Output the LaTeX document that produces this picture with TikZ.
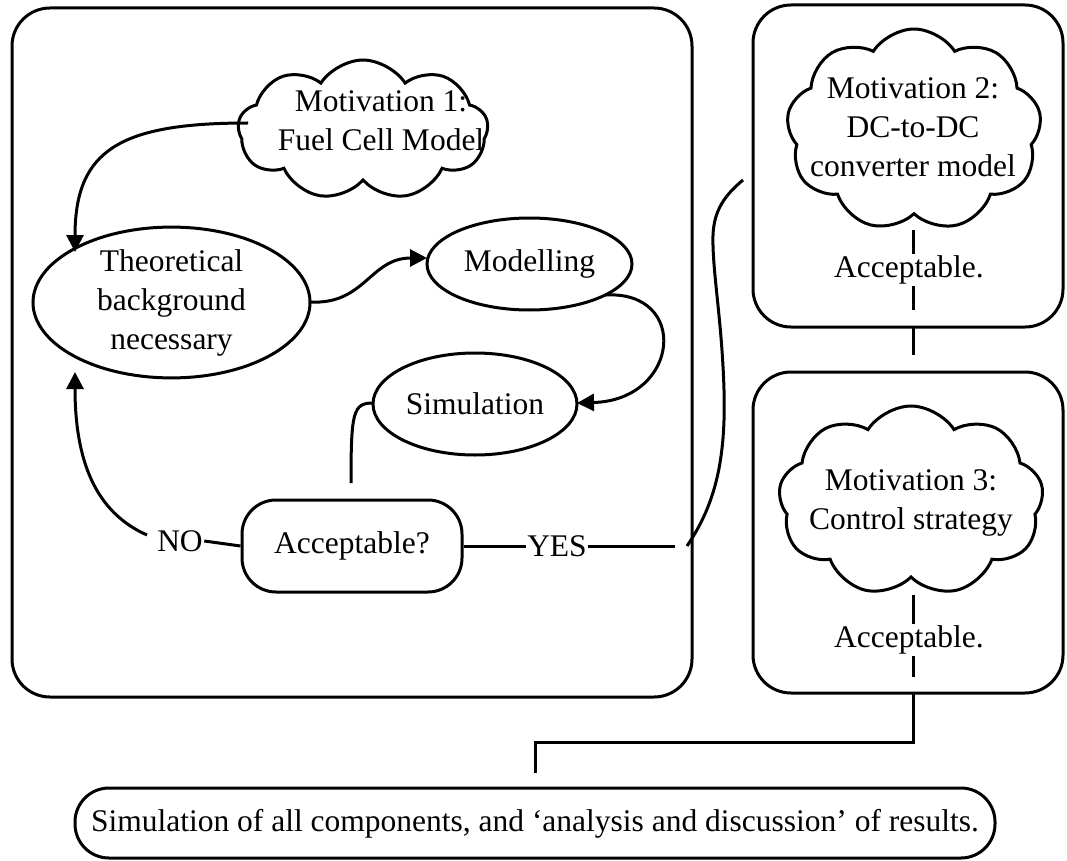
\documentclass[tikz,border=0pt]{standalone}
\usepackage{fontspec}
\setmainfont{Liberation Serif}
\usetikzlibrary{shapes.geometric,shapes.symbols,arrows.meta}
\begin{document}
\begin{tikzpicture}[x=1pt,y=-1pt,
  line width=3pt,
  every node/.style={font=\fontsize{31.5}{39}\selectfont},
  txt/.style={align=center, inner sep=0pt},
  oval/.style={draw, ellipse, inner sep=0pt, align=center},
  puff/.style={draw, cloud, cloud puffs=9, cloud puff arc=115, cloud ignores aspect, inner sep=0pt},
  frame/.style={draw, rounded corners=38pt, inner sep=0pt},
  pill/.style={draw, rounded corners=34pt, inner sep=0pt},
  tip/.style={-{Triangle[length=17pt,width=17pt]}}
]
\useasboundingbox (0,0) rectangle (1067,861);

% outer frames
\node[frame, minimum width=680pt, minimum height=689pt] (leftframe) at (352,352.5) {};
\node[frame, minimum width=310pt, minimum height=322pt] (topframe) at (908,166) {};
\node[frame, minimum width=310pt, minimum height=321pt] (midframe) at (908,532.5) {};

% left column: modelling loop
\node[puff, minimum width=250pt, minimum height=140pt, shape border rotate=10] (c1) at (363,130) {};
\node[txt] (t1) at (381,121) {Motivation 1:\\Fuel Cell Model};
\node[oval, minimum width=277pt, minimum height=139pt] (theo) at (171.5,302.5) {Theoretical\\background\\necessary};
\node[oval, minimum width=205pt, minimum height=92pt] (model) at (529.5,264) {Modelling};
\node[oval, minimum width=204pt, minimum height=102pt] (sim) at (475,404) {Simulation};
\node[pill, minimum width=220pt, minimum height=92pt] (acc) at (352,546) {Acceptable?};
\node[txt] (no) at (180,541) {NO};
\node[txt] (yes) at (557,546) {YES};

% right column
\node[puff, minimum width=255pt, minimum height=202pt, shape border rotate=20] (c2) at (914,130) {};
\node[txt] (t2) at (913,127) {Motivation 2:\\DC-to-DC\\converter model};
\node[txt] (acc2) at (909,270) {Acceptable.};
\node[puff, minimum width=265pt, minimum height=190pt, shape border rotate=20] (c3) at (911,501) {};
\node[txt] (t3) at (911,503) {Motivation 3:\\Control strategy};
\node[txt] (acc3) at (909,640) {Acceptable.};

% final stage
\node[pill, minimum width=920pt, minimum height=70pt] (final) at (535,823) {};
\node[txt] (tf) at (535,824) {Simulation of all components, and ‘analysis and discussion’ of results.};

% connector end points
\coordinate (c1out) at (248,123);
\coordinate (theoin) at (75,252);
\coordinate (theoback) at (75,372);
\coordinate (noout) at (147,535);
\coordinate (theoout) at (310,302);
\coordinate (modelin) at (427,258);
\coordinate (modelout) at (605,295);
\coordinate (simin) at (577,403);
\coordinate (simout) at (373,403);
\coordinate (accin) at (351,483);
\coordinate (yesend) at (675,546);
\coordinate (jumpa) at (687,546);
\coordinate (jumpb) at (743,180);
\coordinate (d2top) at (913,230);
\coordinate (d2a) at (913,310);
\coordinate (d2b) at (913,328);
\coordinate (d2c) at (913,355);
\coordinate (d3top) at (913,595);
\coordinate (d3a) at (913,677);
\coordinate (d3b) at (913,693);
\coordinate (bendr) at (913,742);
\coordinate (bendl) at (535,742);
\coordinate (finalin) at (535,773);

% arrows of the loop
\draw[tip] (c1out) .. controls (120,123) and (75,150) .. (theoin);
\draw[tip] (theoout) .. controls (365,305) and (370,258) .. (modelin);
\draw[tip] (modelout) .. controls (690,290) and (680,400) .. (simin);
\draw (simout) .. controls (353,403) and (351,412) .. (accin);
\draw (acc.west) -- (no.east);
\draw[tip] (noout) .. controls (95,512) and (75,460) .. (theoback);
\draw (acc.east) -- (yes.west);
\draw (yes.east) -- (yesend);
\draw (jumpa) .. controls (715,505) and (726,460) .. (724,390)
      .. controls (722,320) and (712,270) .. (713,235)
      .. controls (714,210) and (725,195) .. (jumpb);

% links down the right column, broken by the labels
\draw (d2top) -- (d2top |- acc2.north);
\draw (d2a |- acc2.south) -- (d2a);
\draw (d2b) -- (d2c);
\draw (d3top) -- (d3top |- acc3.north);
\draw (d3a |- acc3.south) -- (d3a);
\draw (d3b) -- (bendr) -- (bendl) -- (finalin);
\end{tikzpicture}
\end{document}
